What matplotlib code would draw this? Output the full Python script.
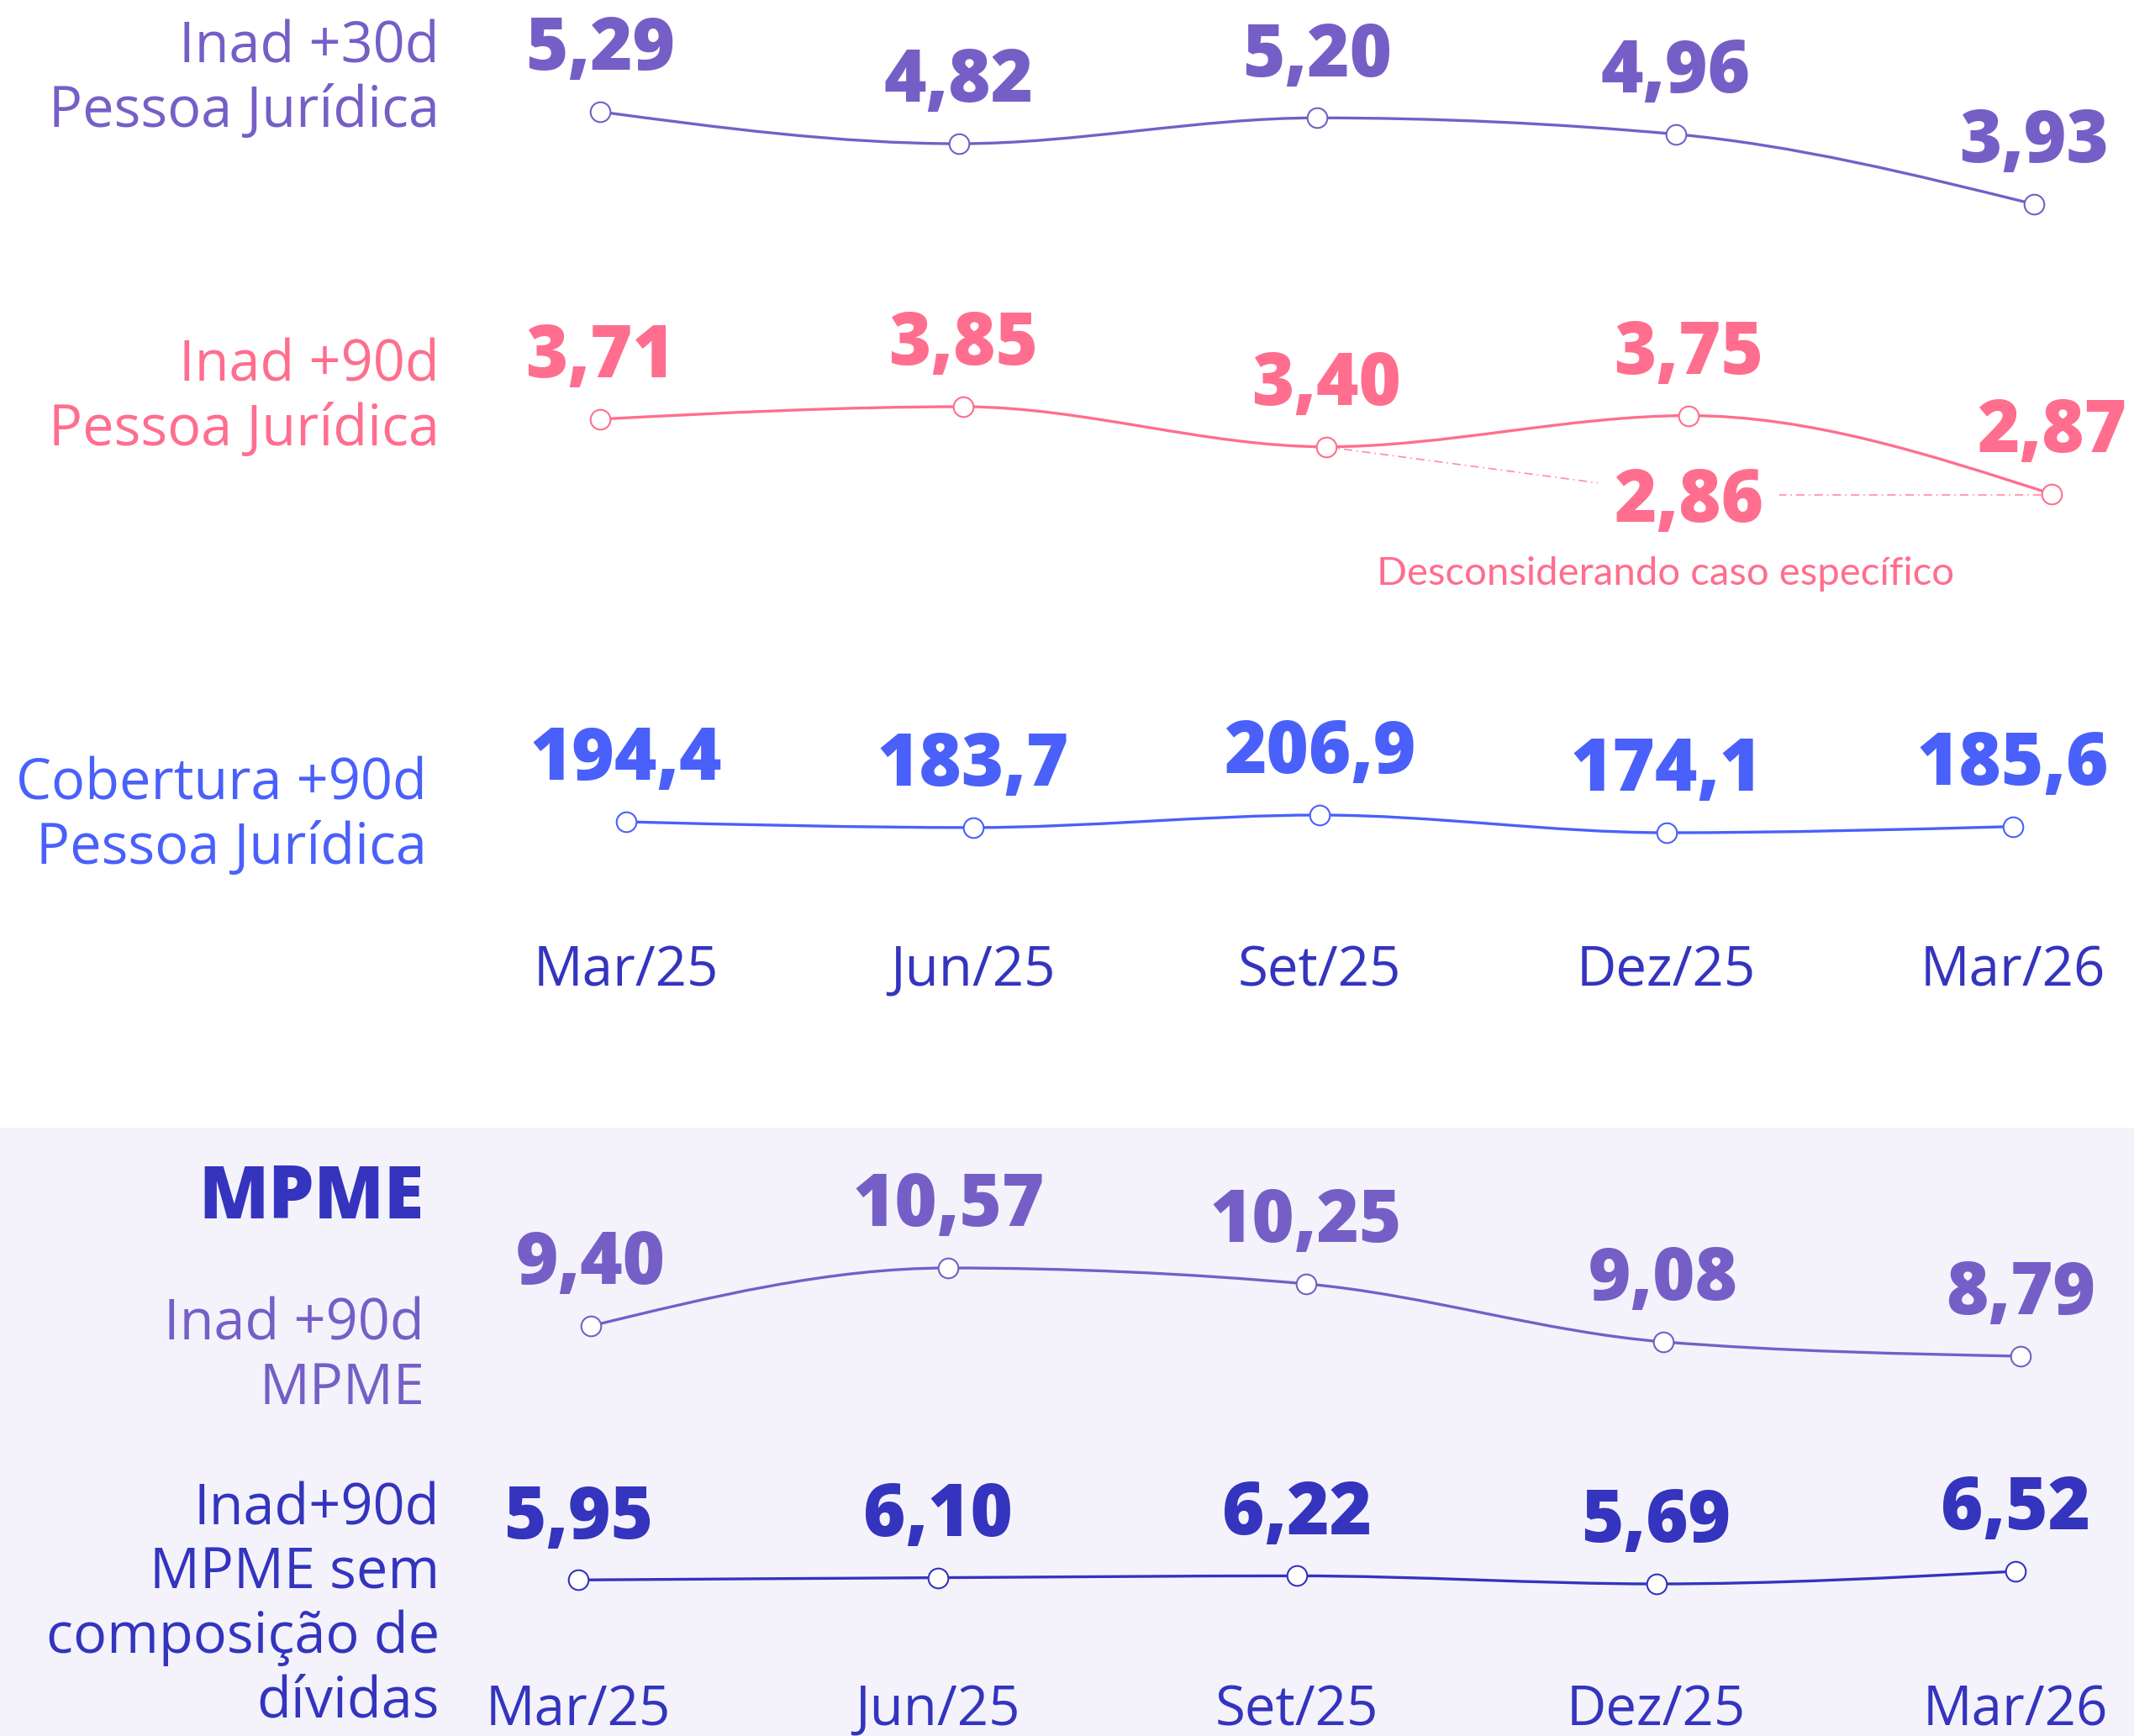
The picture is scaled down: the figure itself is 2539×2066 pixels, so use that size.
import numpy as np
import matplotlib.pyplot as plt
from matplotlib.path import Path
from matplotlib.patches import PathPatch, Rectangle
from matplotlib.transforms import blended_transform_factory

W, H = 2539, 2066

# data
periods = ["Mar/25", "Jun/25", "Set/25", "Dez/25", "Mar/26"]
inad30_pj = [5.29, 4.82, 5.20, 4.96, 3.93]
inad90_pj = [3.71, 3.85, 3.40, 3.75, 2.87]
inad90_pj_ajustado = [np.nan, np.nan, 3.40, 2.86, 2.86]
cobertura90_pj = [194.4, 183.7, 206.9, 174.1, 185.6]
inad90_mpme = [9.40, 10.57, 10.25, 9.08, 8.79]
inad90_mpme_sem_comp = [5.95, 6.10, 6.22, 5.69, 6.52]

PURPLE = "#755FC7"
PINK = "#FF6E8E"
BLUE = "#4A60FB"
NAVY = "#3434BE"
BG = "#F4F3FC"

LABEL_FONT = "Open Sans"
VALUE_FONT = "Open Sans"
LABEL_SIZE = 48


def fx(px):
    return px / W


def fy(py):
    return 1 - py / H


def monotone_path(x, y):
    # d3 curveMonotoneX style cubic
    x = np.asarray(x, float)
    y = np.asarray(y, float)
    n = len(x)
    h = np.diff(x)
    s = np.diff(y) / h
    t = np.zeros(n)
    for i in range(1, n - 1):
        p = (s[i - 1] * h[i] + s[i] * h[i - 1]) / (h[i - 1] + h[i])
        t[i] = (np.sign(s[i - 1]) + np.sign(s[i])) * min(abs(s[i - 1]), abs(s[i]), 0.5 * abs(p))
    if n > 2:
        t[0] = (3 * s[0] - t[1]) / 2
        t[-1] = (3 * s[-1] - t[-2]) / 2
    else:
        t[:] = s[0]
    verts = [(x[0], y[0])]
    codes = [Path.MOVETO]
    for i in range(n - 1):
        dx = h[i] / 3
        verts += [(x[i] + dx, y[i] + dx * t[i]),
                  (x[i + 1] - dx, y[i + 1] - dx * t[i + 1]),
                  (x[i + 1], y[i + 1])]
        codes += [Path.CURVE4] * 3
    return Path(verts, codes)


def fmt(v, dec):
    return f"{v:.{dec}f}".replace(".", ",")


def panel(fig, values, color, x_px, y_px, dec=2, extra=None):
    # x_px: pixel x of first/last point; y_px: pixel y of max/min value
    allv = list(values) + ([v for v in extra if not np.isnan(v)] if extra else [])
    vmin, vmax = min(allv), max(allv)
    ax = fig.add_axes([fx(x_px[0]), fy(y_px[1]), fx(x_px[1] - x_px[0]), (y_px[1] - y_px[0]) / H])
    ax.set_xlim(0, len(values) - 1)
    ax.set_ylim(vmin, vmax)
    ax.set_axis_off()
    xs = np.arange(len(values))
    ax.add_patch(PathPatch(monotone_path(xs, values), fill=False, edgecolor=color,
                           lw=2.4, capstyle="round", clip_on=False, zorder=3))
    ax.plot(xs, values, "o", ms=17, mfc="white", mec=color, mew=1.5,
            clip_on=False, zorder=5)
    for i, v in enumerate(values):
        ax.annotate(fmt(v, dec), (i, v), xytext=(0, 52), textcoords="offset points",
                    ha="center", va="center", fontsize=62, fontweight="heavy",
                    family=VALUE_FONT, color=color, zorder=6)
    return ax


def side_label(x_px, y_px, text, color):
    fig.text(fx(x_px), fy(y_px + 6), text, ha="right", va="center", fontsize=LABEL_SIZE,
             family=LABEL_FONT, fontweight="medium", color=color, linespacing=1.17)


fig = plt.figure(figsize=(W / 100, H / 100), dpi=100)
fig.patch.set_facecolor("white")
fig.add_artist(Rectangle((0, 0), 1, fy(1342), transform=fig.transFigure,
                         facecolor=BG, edgecolor="none", zorder=0))

# Inad +30d PJ
panel(fig, inad30_pj, PURPLE, (714, 2420), (133, 243))
side_label(523, 89, "Inad +30d\nPessoa Jurídica", PURPLE)

# Inad +90d PJ
ax2 = panel(fig, inad90_pj, PINK, (714, 2441), (484, 589), extra=inad90_pj_ajustado)
ax2.plot(np.arange(len(periods)), inad90_pj_ajustado, color=PINK, lw=1.2,
         linestyle=(0, (6, 3, 1, 3)), alpha=0.8, zorder=2, clip_on=False)
ax2.annotate(fmt(inad90_pj_ajustado[3], 2), (3, inad90_pj_ajustado[3]), xytext=(0, -7),
             textcoords="offset points", ha="center", va="center", fontsize=62,
             fontweight="heavy", family=VALUE_FONT, color=PINK, zorder=6,
             bbox=dict(boxstyle="square,pad=0.22", facecolor="white", edgecolor="none"))
fig.text(fx(1982), fy(683), "Desconsiderando caso específico", ha="center", va="center",
         fontsize=34, family="Lato", fontweight="normal", color=PINK)
side_label(523, 468, "Inad +90d\nPessoa Jurídica", PINK)

# Cobertura +90d PJ
ax3 = panel(fig, cobertura90_pj, BLUE, (745, 2395), (970, 991), dec=1)
side_label(508, 966, "Cobertura +90d\nPessoa Jurídica", BLUE)
tr3 = blended_transform_factory(ax3.transData, fig.transFigure)
for i, p in enumerate(periods):
    ax3.text(i, fy(1156), p, transform=tr3, ha="center", va="center",
             fontsize=47, family=LABEL_FONT, color=NAVY)

# MPME
fig.text(fx(505), fy(1427), "MPME", ha="right", va="center", fontsize=62,
         family=LABEL_FONT, fontweight="heavy", color=NAVY)

panel(fig, inad90_mpme, PURPLE, (703, 2404), (1509, 1614))
side_label(505, 1609, "Inad +90d\nMPME", PURPLE)

ax5 = panel(fig, inad90_mpme_sem_comp, NAVY, (688, 2398), (1870, 1885))
side_label(523, 1905, "Inad+90d\nMPME sem\ncomposição de\ndívidas", NAVY)
tr5 = blended_transform_factory(ax5.transData, fig.transFigure)
for i, p in enumerate(periods):
    ax5.text(i, fy(2036), p, transform=tr5, ha="center", va="center",
             fontsize=47, family=LABEL_FONT, color=NAVY)

fig.savefig("out.png", dpi=100)
